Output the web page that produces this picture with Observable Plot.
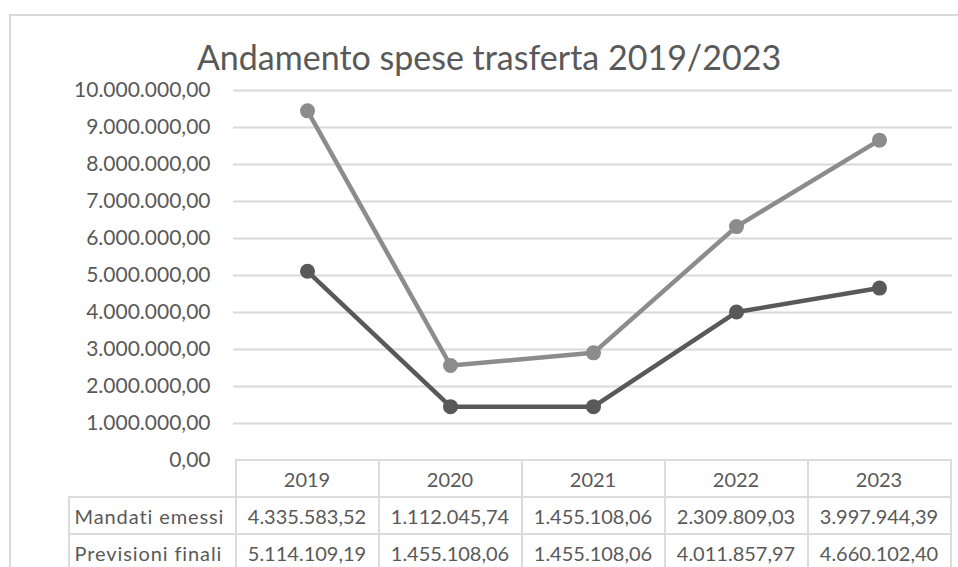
<!DOCTYPE html>
<html><head><meta charset="utf-8">
<script src="https://cdn.jsdelivr.net/npm/d3@7"></script>
<script src="https://cdn.jsdelivr.net/npm/@observablehq/plot@0.6"></script>
<style>
body{margin:0;background:#fff;font-family:Lato,sans-serif;color:#595959}
#wrap{position:relative;width:958px;height:567px;overflow:hidden;background:#fff}
#frame{position:absolute;left:9px;top:14px;width:1000px;height:700px;border:2px solid #d9d9d9;box-sizing:border-box}
#chart{position:absolute;left:0;top:0}
#title{position:absolute;left:0;width:978px;top:40px;text-align:center;font-size:34px;line-height:1;white-space:nowrap}
#tbl{position:absolute;border-collapse:collapse;font-size:20px;table-layout:fixed}
#tbl td{border:2px solid #dcdcdc;height:37px;padding:0;text-align:center;white-space:nowrap;box-sizing:border-box}
#tbl td.lab{text-align:left;padding-left:5px;letter-spacing:0.9px}
#tbl td.blank{border-top:none;border-left:none}
</style></head>
<body><div id="wrap"><div id="frame"></div><div id="chart"></div><div id="title">Andamento spese trasferta 2019/2023</div></div>
<script>
const years = ["2019","2020","2021","2022","2023"];
const seriesNames = ["Mandati emessi","Previsioni finali"];
const mandati = [4335583.52, 1112045.74, 1455108.06, 2309809.03, 3997944.39];
const previsioni = [5114109.19, 1455108.06, 1455108.06, 4011857.97, 4660102.40];
const yTicks = [0,1000000,2000000,3000000,4000000,5000000,6000000,7000000,8000000,9000000,10000000];

const it = d3.formatLocale({decimal: ",", thousands: ".", grouping: [3], currency: ["€", ""]});
const fmt = it.format(",.2f");

// stacked line chart: Previsioni finali at the bottom, Mandati emessi stacked on top
const rows = [];
years.forEach((y, i) => rows.push({year: y, series: seriesNames[1], value: previsioni[i]}));
years.forEach((y, i) => rows.push({year: y, series: seriesNames[0], value: mandati[i]}));
const colors = {"Previsioni finali": "#595959", "Mandati emessi": "#8c8c8c"};

const chart = Plot.plot({
  width: 958, height: 480,
  marginLeft: 233, marginRight: 6, marginTop: 90, marginBottom: 20,
  style: {fontFamily: "Lato, sans-serif", fontSize: "21px", color: "#595959", background: "transparent"},
  x: {type: "point", domain: years, padding: 0.5, axis: null},
  y: {domain: [0, 10000000], ticks: yTicks, tickFormat: fmt, tickSize: 0, tickPadding: 23, label: null},
  marks: [
    Plot.gridY(yTicks.filter(d => d > 0), {stroke: "#d9d9d9", strokeOpacity: 1, strokeWidth: 2}),
    Plot.axisY({ticks: yTicks, tickFormat: fmt, tickSize: 0, tickPadding: 23, label: null, fontSize: 21}),
    Plot.lineY(rows, Plot.stackY2({x: "year", y: "value", z: "series", stroke: d => colors[d.series], strokeWidth: 4.5, strokeLinejoin: "round"})),
    Plot.dot(rows, Plot.stackY2({x: "year", y: "value", z: "series", fill: d => colors[d.series], r: 7.5}))
  ]
});
document.getElementById("chart").appendChild(chart);

// data table aligned to the x scale
const xs = chart.scale("x");
const step = xs.step;
const firstLeft = xs.apply(years[0]) - step / 2;
const labW = 167;
const tbl = document.createElement("table");
tbl.id = "tbl";
tbl.style.left = (firstLeft - labW - 1) + "px";
tbl.style.top = "459px";
const cg = document.createElement("colgroup");
[labW, ...years.map(() => step)].forEach(w => { const c = document.createElement("col"); c.style.width = w + "px"; cg.appendChild(c); });
tbl.appendChild(cg);
const hr = tbl.insertRow();
const hb = hr.insertCell(); hb.className = "blank";
years.forEach(y => { hr.insertCell().textContent = y; });
[[seriesNames[0], mandati], [seriesNames[1], previsioni]].forEach(([name, vals]) => {
  const r = tbl.insertRow();
  const l = r.insertCell(); l.className = "lab"; l.textContent = name;
  vals.forEach(v => { r.insertCell().textContent = fmt(v); });
});
document.getElementById("wrap").appendChild(tbl);
</script></body></html>
